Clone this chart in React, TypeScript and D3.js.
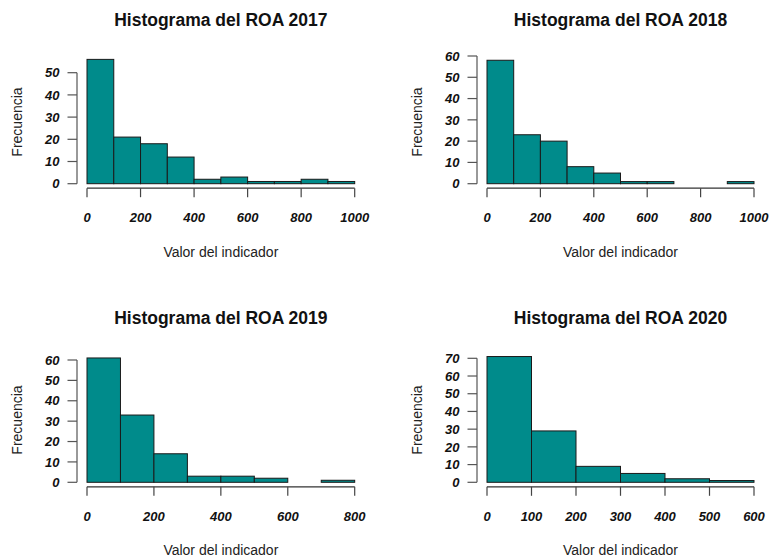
import React from 'react';
import * as d3 from 'd3';

// frequencies per bin of width 100
const BIN_WIDTH = 100;
const counts2017 = [56, 21, 18, 12, 2, 3, 1, 1, 2, 1];
const counts2018 = [58, 23, 20, 8, 5, 1, 1, 0, 0, 1];
const counts2019 = [61, 33, 14, 3, 3, 2, 0, 1];
const counts2020 = [71, 29, 9, 5, 2, 1];

const xTicks2017 = [0, 200, 400, 600, 800, 1000];
const xTicks2018 = [0, 200, 400, 600, 800, 1000];
const xTicks2019 = [0, 200, 400, 600, 800];
const xTicks2020 = [0, 100, 200, 300, 400, 500, 600];

const yTicks2017 = [0, 10, 20, 30, 40, 50];
const yTicks2018 = [0, 10, 20, 30, 40, 50, 60];
const yTicks2019 = [0, 10, 20, 30, 40, 50, 60];
const yTicks2020 = [0, 10, 20, 30, 40, 50, 60, 70];

const TITLE = 'Histograma del ROA';
const X_LABEL = 'Valor del indicador';
const Y_LABEL = 'Frecuencia';

const FILL = '#008b8b';

// plot frame for each panel: left/right of x scale, baseline and y of top tick
const panels = [
  { year: 2017, counts: counts2017, xTicks: xTicks2017, yTicks: yTicks2017, x0: 87, x1: 354.7, y0: 183.7, y1: 72.7 },
  { year: 2018, counts: counts2018, xTicks: xTicks2018, yTicks: yTicks2018, x0: 487, x1: 754, y0: 183.7, y1: 56 },
  { year: 2019, counts: counts2019, xTicks: xTicks2019, yTicks: yTicks2019, x0: 87, x1: 354.7, y0: 482.3, y1: 360 },
  { year: 2020, counts: counts2020, xTicks: xTicks2020, yTicks: yTicks2020, x0: 487, x1: 754, y0: 482.3, y1: 358.3 },
];

type PanelProps = (typeof panels)[number];

function Histogram({ year, counts, xTicks, yTicks, x0, x1, y0, y1 }: PanelProps) {
  const xMax = xTicks[xTicks.length - 1];
  const yMax = yTicks[yTicks.length - 1];
  const x = d3.scaleLinear().domain([0, xMax]).range([x0, x1]);
  const y = d3.scaleLinear().domain([0, yMax]).range([y0, y1]);

  const axisY = x0 - 10; // vertical axis sits a bit left of the bars
  const axisX = y0 + 4.5; // horizontal axis a bit below
  const cx = (x0 + x1) / 2;
  const top = y0 < 300 ? 0 : 298;

  return (
    <g>
      <text x={cx} y={top + 26} textAnchor="middle" fontSize={17.5} fontWeight="bold" fill="#111">
        {`${TITLE} ${year}`}
      </text>

      {counts.map((c, i) => (
        <rect
          key={i}
          x={x(i * BIN_WIDTH)}
          y={y(c)}
          width={x((i + 1) * BIN_WIDTH) - x(i * BIN_WIDTH)}
          height={y(0) - y(c)}
          fill={FILL}
          stroke="#1a1a1a"
          strokeWidth={1}
        />
      ))}

      {/* x axis */}
      <line x1={x(xTicks[0])} x2={x(xMax)} y1={axisX} y2={axisX} stroke="#333" strokeWidth={1.2} />
      {xTicks.map(t => (
        <g key={t}>
          <line x1={x(t)} x2={x(t)} y1={axisX} y2={axisX + 9} stroke="#444" strokeWidth={1.2} />
          <text x={x(t)} y={axisX + 34} textAnchor="middle" fontSize={13} fontWeight="bold" fontStyle="italic" fill="#111">
            {t}
          </text>
        </g>
      ))}

      {/* y axis */}
      <line x1={axisY} x2={axisY} y1={y(0)} y2={y(yMax)} stroke="#555" strokeWidth={1.2} />
      {yTicks.map(t => (
        <g key={t}>
          <line x1={axisY} x2={axisY - 9.5} y1={y(t)} y2={y(t)} stroke="#555" strokeWidth={1.2} />
          <text x={axisY - 17.5} y={y(t) + 4.7} textAnchor="end" fontSize={13} fontWeight="bold" fontStyle="italic" fill="#111">
            {t}
          </text>
        </g>
      ))}

      <text x={cx} y={top + 257} textAnchor="middle" fontSize={14} fill="#222">
        {X_LABEL}
      </text>
      <text
        transform={`translate(${x0 - 65.5}, ${top + 122}) rotate(-90)`}
        textAnchor="middle"
        fontSize={14}
        fill="#222"
      >
        {Y_LABEL}
      </text>
    </g>
  );
}

export default function App() {
  return (
    <svg
      width={772}
      height={560}
      style={{ position: 'absolute', left: 0, top: 0, background: '#fff' }}
      fontFamily="'Liberation Sans', Arial, sans-serif"
    >
      {panels.map(p => (
        <Histogram key={p.year} {...p} />
      ))}
    </svg>
  );
}
